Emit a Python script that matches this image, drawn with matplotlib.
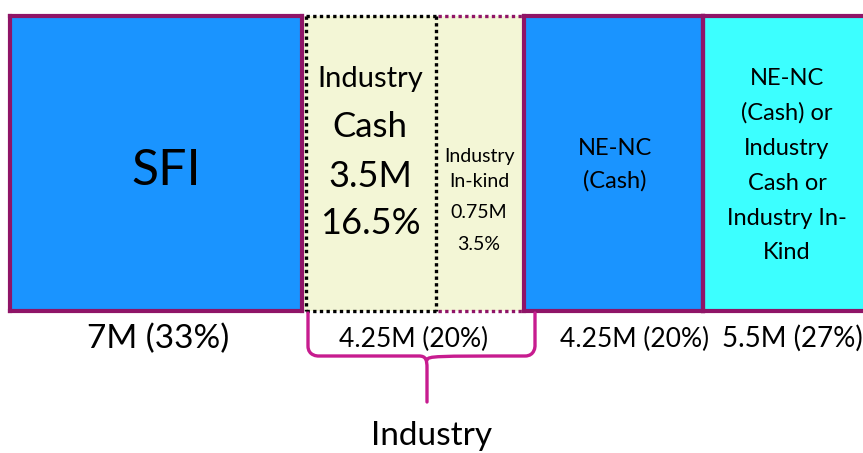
import matplotlib
matplotlib.use("Agg")
import matplotlib.pyplot as plt
from matplotlib.path import Path
from matplotlib.patches import PathPatch

plt.rcParams['font.family'] = ['Lato', 'DejaVu Sans']

# funding segments, left to right
segments = ["SFI", "Industry Cash", "Industry In-kind", "NE-NC (Cash)", "Flexible"]
amounts_m = [7, 3.5, 0.75, 4.25, 5.5]
shares = [33, 16.5, 3.5, 20, 27]
groups = ["SFI", "Industry", "Industry", "NE-NC", "Other"]
box_text = [
    ["SFI"],
    ["Industry", "Cash", "3.5M", "16.5%"],
    ["Industry", "In-kind", "0.75M", "3.5%"],
    ["NE-NC", "(Cash)"],
    ["NE-NC", "(Cash) or", "Industry", "Cash or", "Industry In-", "Kind"],
]
bottom_labels = ["7M (33%)", "4.25M (20%)", "4.25M (20%)", "5.5M (27%)"]

# layout (pixels)
edges = [10, 303, 436, 524, 703, 880]
top, bot = 15.5, 311
fills = ["#1a94ff", "#f3f6d6", "#f3f6d6", "#1a94ff", "#3cffff"]
purple = "#8f1467"
magenta = "#c71c8f"

fig = plt.figure(figsize=(8.63, 4.53), dpi=100)
ax = fig.add_axes([0, 0, 1, 1])
ax.set_xlim(0, 863)
ax.set_ylim(453, 0)
ax.axis("off")

lefts = edges[:-1]
widths = [edges[i + 1] - edges[i] for i in range(len(segments))]
ax.bar(lefts, [bot - top] * len(segments), width=widths, bottom=top,
       align="edge", color=fills, linewidth=0, zorder=1)

# borders
def rect(x0, x1, color, ls, lw, sides="tblr", z=3):
    kw = dict(color=color, linestyle=ls, linewidth=lw, zorder=z,
              solid_capstyle="projecting", dash_capstyle="butt")
    if "t" in sides:
        ax.plot([x0, x1], [top, top], **kw)
    if "b" in sides:
        ax.plot([x0, x1], [bot, bot], **kw)
    if "l" in sides:
        ax.plot([x0, x0], [top, bot], **kw)
    if "r" in sides:
        ax.plot([x1, x1], [top, bot], **kw)

rect(edges[0], edges[1] - 1.5, purple, "-", 3.0)
rect(edges[1] + 2.5, edges[2], "black", (0, (1, 1)), 2.4)
rect(edges[2] + 2, edges[3], purple, (0, (1, 1)), 2.4, sides="tb", z=2)
rect(edges[3], edges[4], purple, "-", 3.0)
rect(edges[4], 870, purple, "-", 3.0)

# text inside boxes
centers_x = [166, 370, 479, 615, 787]
baselines = [
    [185],
    [87, 137, 187, 234],
    [162, 187, 218, 250],
    [155, 188],
    [85, 120, 155, 190, 225, 259],
]
sizes = [
    [36],
    [21, 25, 26, 26],
    [14, 14, 14, 14],
    [17, 17],
    [17, 17, 17, 17, 17, 17],
]
for cx, lines, ys, fs in zip(centers_x, box_text, baselines, sizes):
    for t, y, s in zip(lines, ys, fs):
        ax.text(cx, y, t, ha="center", va="baseline", fontsize=s, color="black", zorder=5)

# amounts below
label_x = [158, 414, 635, 792]
label_fs = [24, 19, 19, 20]
label_y = [348, 347, 347, 347]
for x, y, t, s in zip(label_x, label_y, bottom_labels, label_fs):
    ax.text(x, y, t, ha="center", va="baseline", fontsize=s, color="black", zorder=5)

# curly brace grouping industry contributions
L, R, M = 308, 535, 427
y0, yh, ytip = 313, 356, 402
verts = [
    (L, y0), (L, yh - 10),
    (L, yh), (L + 10, yh), (L + 10, yh),
    (M - 8, yh),
    (M - 1, yh), (M, yh + 4), (M, yh + 12),
    (M, ytip),
    (M, yh + 4), (M + 1, yh), (M + 8, yh),
    (R - 10, yh),
    (R, yh), (R, yh - 10), (R, yh - 10),
    (R, y0),
]
codes = [
    Path.MOVETO, Path.LINETO,
    Path.CURVE4, Path.CURVE4, Path.CURVE4,
    Path.LINETO,
    Path.CURVE4, Path.CURVE4, Path.CURVE4,
    Path.LINETO,
    Path.MOVETO, Path.CURVE4, Path.CURVE4,
    Path.LINETO,
    Path.CURVE4, Path.CURVE4, Path.CURVE4,
    Path.LINETO,
]
brace = PathPatch(Path(verts, codes), facecolor="none", edgecolor=magenta,
                  linewidth=2.4, capstyle="round", joinstyle="round", zorder=4)
ax.add_patch(brace)

ax.text(432, 445, "Industry", ha="center", va="baseline", fontsize=24, color="black")

fig.savefig("out.png", dpi=100)
